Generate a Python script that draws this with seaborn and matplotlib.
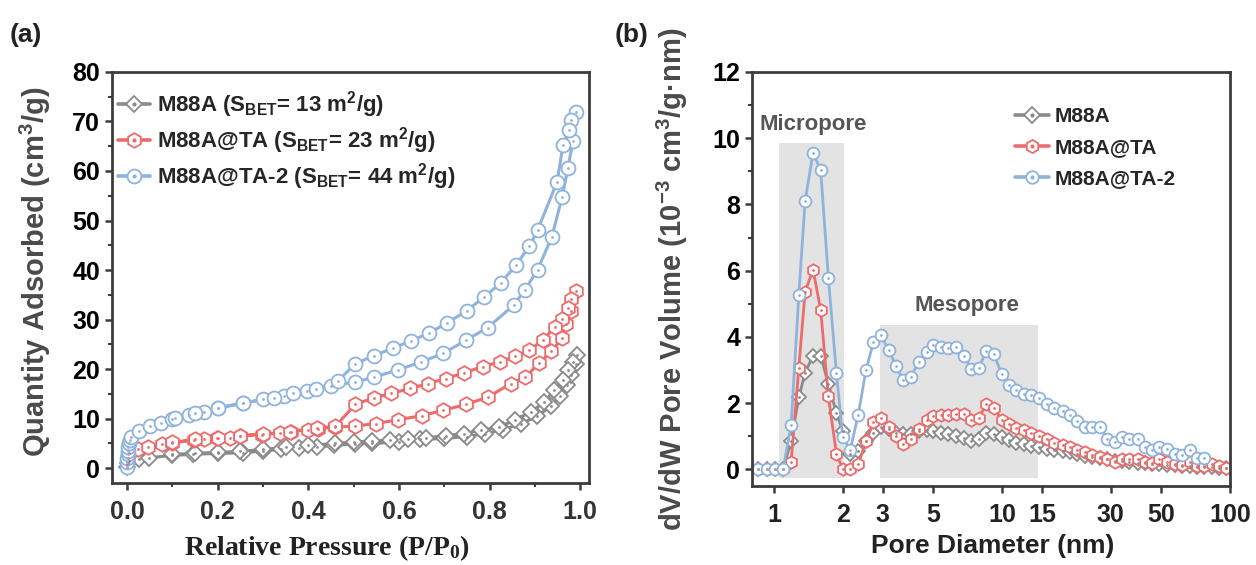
import numpy as np
import pandas as pd
import matplotlib
matplotlib.use('Agg')
import matplotlib.pyplot as plt
import seaborn as sns
from matplotlib.lines import Line2D
from matplotlib.patches import Rectangle
from matplotlib.ticker import MultipleLocator, FixedLocator, NullLocator

# ---------------- data (a): N2 isotherms, adsorption + desorption branches
m88a_ads_p = [0.0005, 0.002, 0.005, 0.026, 0.048, 0.1, 0.146, 0.2, 0.255, 0.3, 0.34, 0.38, 0.42, 0.456,
              0.502, 0.541, 0.6, 0.647, 0.7, 0.75, 0.79, 0.83, 0.87, 0.905, 0.935, 0.955, 0.97, 0.98, 0.99]
m88a_ads_q = [0.3, 1.0, 1.5, 1.8, 2.1, 2.6, 2.8, 3.0, 3.1, 3.5, 3.8, 4.1, 4.3, 4.6,
              4.9, 5.0, 5.3, 5.8, 6.0, 6.4, 7.0, 7.8, 9.0, 10.5, 12.5, 14.5, 16.8, 18.8, 21.0]
m88a_des_p = [0.993, 0.984, 0.973, 0.961, 0.943, 0.921, 0.892, 0.855, 0.821, 0.781, 0.744, 0.704, 0.66,
              0.62, 0.58, 0.54, 0.5, 0.46, 0.4, 0.35, 0.3, 0.25, 0.2, 0.15, 0.1]
m88a_des_q = [22.8, 21.5, 19.8, 17.8, 15.8, 13.4, 11.4, 9.7, 8.3, 7.7, 7.0, 6.6, 6.1,
              5.9, 5.7, 5.5, 5.3, 5.0, 4.6, 4.2, 3.8, 3.4, 3.2, 3.0, 2.8]

ta_ads_p = [0.0005, 0.002, 0.005, 0.025, 0.047, 0.077, 0.099, 0.147, 0.169, 0.198, 0.228, 0.25, 0.298,
            0.338, 0.361, 0.399, 0.421, 0.46, 0.502, 0.549, 0.599, 0.65, 0.698, 0.749, 0.797, 0.847,
            0.878, 0.91, 0.936, 0.96, 0.969, 0.979, 0.991]
ta_ads_q = [0.8, 2.0, 3.0, 3.8, 4.3, 4.8, 5.1, 5.7, 5.8, 6.0, 6.1, 6.5, 6.8,
            7.1, 7.3, 7.8, 8.0, 8.3, 8.5, 9.0, 9.8, 10.6, 11.7, 12.9, 14.4, 17.1,
            18.4, 21.2, 23.6, 26.2, 29.2, 31.7, 35.8]
ta_des_p = [0.979, 0.973, 0.96, 0.945, 0.917, 0.888, 0.857, 0.823, 0.785, 0.744, 0.704, 0.664, 0.625,
            0.583, 0.544, 0.504, 0.46, 0.42, 0.36, 0.3, 0.25, 0.2, 0.15, 0.1]
ta_des_q = [34.1, 32.3, 30.2, 28.5, 25.9, 23.8, 22.6, 21.5, 20.5, 19.3, 18.1, 17.1, 16.1,
            15.1, 14.2, 12.9, 8.5, 8.1, 7.4, 6.9, 6.6, 6.1, 5.8, 5.2]

ta2_ads_p = [0.0002, 0.0005, 0.001, 0.0015, 0.002, 0.003, 0.004, 0.006, 0.008, 0.027, 0.051, 0.075,
             0.1, 0.136, 0.169, 0.2, 0.256, 0.3, 0.347, 0.398, 0.449, 0.504, 0.546, 0.599, 0.648,
             0.698, 0.749, 0.796, 0.853, 0.878, 0.906, 0.937, 0.96, 0.973, 0.984, 0.99]
ta2_ads_q = [0.3, 1.2, 2.0, 2.8, 3.5, 4.3, 5.0, 5.7, 6.3, 7.5, 8.5, 9.2,
             9.9, 10.7, 11.3, 12.1, 13.1, 13.9, 14.5, 15.6, 16.6, 17.4, 18.4, 19.9, 21.4,
             23.2, 25.9, 28.4, 32.9, 36.0, 40.1, 46.6, 54.7, 60.7, 66.1, 72.0]
ta2_des_p = [0.98, 0.975, 0.962, 0.949, 0.906, 0.888, 0.858, 0.825, 0.788, 0.75, 0.707, 0.667, 0.626,
             0.586, 0.544, 0.504, 0.465, 0.418, 0.367, 0.324, 0.256, 0.2, 0.15, 0.106]
ta2_des_q = [70.3, 68.3, 65.3, 57.8, 48.1, 44.8, 41.0, 37.4, 34.6, 31.8, 29.4, 27.3, 25.7,
             24.2, 22.7, 21.1, 17.6, 16.0, 15.1, 14.2, 13.2, 12.2, 11.2, 10.1]

# ---------------- data (b): pore size distribution
pore_d = [0.851, 0.929, 1.007, 1.096, 1.188, 1.284, 1.368, 1.483, 1.602, 1.731, 1.877, 2.0, 2.16,
          2.34, 2.53, 2.73, 2.94, 3.18, 3.44, 3.66, 3.97, 4.32, 4.68, 4.99, 5.39, 5.82, 6.31, 6.82,
          7.34, 7.93, 8.51, 9.23, 9.97, 10.7, 11.56, 12.53, 13.45, 14.52, 15.75, 16.9, 18.45, 19.79,
          21.38, 23.19, 24.87, 26.87, 28.93, 31.26, 33.54, 36.23, 39.29, 42.44, 45.53, 49.0, 52.96,
          57.23, 61.6, 66.57, 71.4, 77.16, 83.6, 89.7, 96.3]
m88a_dv = [0, 0, 0, 0, 0.86, 2.17, 2.92, 3.43, 3.43, 2.57, 1.71, 1.16, 0.45,
           0.55, 0.86, 1.11, 1.28, 1.21, 1.11, 1.06, 1.08, 1.16, 1.18, 1.16, 1.11, 1.06, 1.01, 0.96,
           0.86, 0.91, 1.11, 1.08, 0.98, 0.88, 0.81, 0.76, 0.71, 0.66, 0.61, 0.58, 0.54, 0.51,
           0.45, 0.40, 0.36, 0.33, 0.30, 0.26, 0.24, 0.22, 0.20, 0.18, 0.16, 0.15, 0.13,
           0.12, 0.10, 0.09, 0.08, 0.07, 0.06, 0.05, 0.04]
ta_dv = [0, 0, 0, 0, 0.22, 3.07, 5.36, 6.03, 4.80, 2.20, 0.47, 0.02, 0.0,
         0.15, 0.85, 1.42, 1.55, 1.29, 1.02, 0.76, 0.91, 1.21, 1.48, 1.61, 1.64, 1.64, 1.68, 1.68,
         1.48, 1.56, 1.96, 1.86, 1.48, 1.36, 1.26, 1.18, 1.11, 1.01, 0.91, 0.81, 0.73, 0.66,
         0.58, 0.51, 0.44, 0.38, 0.31, 0.21, 0.31, 0.31, 0.31, 0.21, 0.18, 0.31, 0.21,
         0.16, 0.14, 0.21, 0.11, 0.11, 0.16, 0.11, 0.05]
ta2_dv = [0, 0, 0, 0, 1.33, 5.26, 8.10, 9.56, 9.03, 5.78, 2.92, 0.98, 0.59,
          1.65, 2.99, 3.85, 4.05, 3.60, 3.11, 2.71, 2.79, 3.24, 3.54, 3.75, 3.69, 3.65, 3.68, 3.41,
          3.04, 3.07, 3.57, 3.47, 2.87, 2.54, 2.39, 2.29, 2.24, 2.15, 1.98, 1.85, 1.75, 1.63,
          1.45, 1.28, 1.28, 1.28, 0.93, 0.82, 0.98, 0.91, 0.91, 0.66, 0.57, 0.67, 0.62,
          0.47, 0.44, 0.57, 0.34, 0.34]

names = ['M88A', 'M88A@TA', 'M88A@TA-2']
sbet = [13, 23, 44]
colors = ['#8a8a8a', '#ee6b6b', '#8fb3dc']
markers = ['D', 'h', 'o']
msizes = [8.5, 10.5, 10]

micro_range = (1.05, 2.03, 9.86)
meso_range = (2.93, 14.4, 4.37)

# ---------------- style
sns.set_theme(style='ticks')
plt.rcParams['font.family'] = ['Liberation Sans', 'DejaVu Sans']
plt.rcParams['font.weight'] = 'bold'
plt.rcParams['mathtext.default'] = 'regular'
spine_c = '#3c3c3c'


def draw(ax, x, y, color, marker, ms, lw=2.2):
    df = pd.DataFrame({'x': x, 'y': y})
    sns.lineplot(data=df, x='x', y='y', ax=ax, sort=False, estimator=None, color=color, lw=lw,
                 marker=marker, markersize=ms, markerfacecolor='white', markeredgecolor=color,
                 markeredgewidth=1.3)
    sns.scatterplot(data=df, x='x', y='y', ax=ax, color=color, s=4, linewidth=0, zorder=3)


def style_axes(ax):
    for s in ax.spines.values():
        s.set_color(spine_c)
        s.set_linewidth(2.0)
    ax.tick_params(which='major', direction='out', length=5, width=1.8, color=spine_c)
    ax.tick_params(which='minor', direction='out', length=3, width=1.5, color=spine_c)
    ax.set_xlabel('')
    ax.set_ylabel('')


def legend_handles(ms_scale=1.0):
    hs = []
    for c, m, ms in zip(colors, markers, msizes):
        h1 = Line2D([], [], color=c, lw=2.6, marker=m, ms=ms * ms_scale, mfc='white', mec=c, mew=1.3)
        h2 = Line2D([], [], ls='none', marker='o', ms=2, color=c)
        hs.append((h1, h2))
    return hs


fig = plt.figure(figsize=(12.56, 5.65), dpi=100)
ax1 = fig.add_axes([0.0892, 0.145, 0.380, 0.7277])
ax2 = fig.add_axes([0.5987, 0.140, 0.3806, 0.7327])

# ---------------- (a)
iso = [(m88a_ads_p, m88a_ads_q, m88a_des_p, m88a_des_q),
       (ta_ads_p, ta_ads_q, ta_des_p, ta_des_q),
       (ta2_ads_p, ta2_ads_q, ta2_des_p, ta2_des_q)]
for (ap, aq, dp, dq), c, m, ms in zip(iso, colors, markers, msizes):
    draw(ax1, ap + dp, aq + dq, c, m, ms)

ax1.set_xlim(-0.033, 1.02)
ax1.set_ylim(-3, 80)
ax1.xaxis.set_major_locator(MultipleLocator(0.2))
ax1.xaxis.set_minor_locator(MultipleLocator(0.1))
ax1.yaxis.set_major_locator(MultipleLocator(10))
ax1.yaxis.set_minor_locator(MultipleLocator(5))
style_axes(ax1)
ax1.set_xticks([0, 0.2, 0.4, 0.6, 0.8, 1.0])
ax1.set_xticklabels(['0.0', '0.2', '0.4', '0.6', '0.8', '1.0'],
                    fontsize=18, fontweight='bold', color='#333333')
for t in ax1.get_yticklabels():
    t.set_fontsize(18)
    t.set_fontweight('bold')
    t.set_color('black')
ax1.tick_params(axis='x', pad=7)

labels_a = [f'{n} (S$_{{BET}}$= {s} m$^2$/g)' for n, s in zip(names, sbet)]
ax1.legend(legend_handles(), labels_a, loc='upper left', bbox_to_anchor=(-0.015, 0.99), frameon=False,
           prop={'size': 16, 'weight': 'bold'}, handlelength=1.45, handletextpad=0.3,
           labelspacing=0.22, borderaxespad=0.2)

# ---------------- (b)
ax2.add_patch(Rectangle((micro_range[0], -0.25), micro_range[1] - micro_range[0], micro_range[2] + 0.25,
                        facecolor='#e3e3e3', edgecolor='none', zorder=0))
ax2.add_patch(Rectangle((meso_range[0], -0.25), meso_range[1] - meso_range[0], meso_range[2] + 0.25,
                        facecolor='#e3e3e3', edgecolor='none', zorder=0))
psd = [m88a_dv, ta_dv, ta2_dv]
for v, c, m, ms in zip(psd, colors, markers, msizes):
    draw(ax2, pore_d[:len(v)], v, c, m, ms * 0.85, lw=2.0)

ax2.set_xscale('log')
ax2.set_xlim(0.80, 100)
ax2.set_ylim(-0.5, 12)
xt = [1, 2, 3, 5, 10, 15, 30, 50, 100]
ax2.xaxis.set_major_locator(FixedLocator(xt))
ax2.xaxis.set_minor_locator(NullLocator())
ax2.yaxis.set_major_locator(MultipleLocator(2))
ax2.yaxis.set_minor_locator(MultipleLocator(1))
style_axes(ax2)
ax2.set_xticklabels([str(t) for t in xt], fontsize=18, fontweight='bold', color='#222222')
for t in ax2.get_yticklabels():
    t.set_fontsize(18)
    t.set_fontweight('bold')
    t.set_color('black')
ax2.tick_params(axis='x', pad=7)

ax2.text(np.sqrt(micro_range[0] * micro_range[1]) * 1.02, 10.4, 'Micropore', ha='center', va='center',
         fontsize=16, fontweight='bold', color='#555555')
ax2.text(np.sqrt(meso_range[0] * meso_range[1]) * 1.08, 4.95, 'Mesopore', ha='center', va='center',
         fontsize=16, fontweight='bold', color='#555555')

ax2.legend(legend_handles(0.9), names, loc='upper left', bbox_to_anchor=(0.525, 0.945), frameon=False,
           prop={'size': 15, 'weight': 'bold'}, handlelength=1.6, handletextpad=0.3,
           labelspacing=0.58, borderaxespad=0.2)

# ---------------- axis titles and panel tags
fig.text(35 / 1256, 1 - 272 / 565, 'Quantity Adsorbed (cm$^3$/g)', rotation=90, ha='center', va='center',
         fontsize=21, fontweight='bold', color='#4a4a4a')
fig.text(327 / 1256, 1 - 548 / 565, 'Relative Pressure (P/P$_0$)', ha='center', va='center',
         fontsize=20, fontweight='bold', family='Liberation Serif', color='#222222')
fig.text(672 / 1256, 1 - 279 / 565, 'dV/dW Pore Volume (10$^{-3}$ cm$^3$/g·nm)', rotation=90,
         ha='center', va='center', fontsize=21, fontweight='bold', color='#4a4a4a')
fig.text(993 / 1256, 1 - 546 / 565, 'Pore Diameter (nm)', ha='center', va='center',
         fontsize=19, fontweight='bold', color='#222222')
fig.text(26 / 1256, 1 - 35 / 565, '(a)', ha='center', va='center', fontsize=19, fontweight='bold',
         color='#222222')
fig.text(632 / 1256, 1 - 35 / 565, '(b)', ha='center', va='center', fontsize=19, fontweight='bold',
         color='#222222')

fig.savefig('out.png', dpi=100)
